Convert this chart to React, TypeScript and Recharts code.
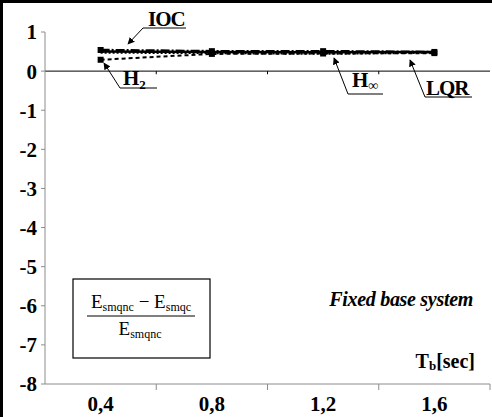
import React from 'react';
import { LineChart, Line, XAxis, YAxis, ReferenceLine } from 'recharts';

// Tb [sec] sample points
const tbValues = [0.4, 0.8, 1.2, 1.6];
// relative energy reduction per controller
const iocValues = [0.54, 0.51, 0.51, 0.49];
const h2Values = [0.29, 0.44, 0.45, 0.46];
const hInfValues = [0.47, 0.46, 0.44, 0.47];
const lqrValues = [0.5, 0.49, 0.48, 0.49];

const xLabelTicks = [0.4, 0.8, 1.2, 1.6];
const xMarkTicks = [0.6, 1.0, 1.4, 1.8];
const zeroLineTicks = [0.6, 1.0, 1.4];
const yTicks = [-8, -7, -6, -5, -4, -3, -2, -1, 0, 1];

const data = tbValues.map((tb, i) => ({
  tb,
  ioc: iocValues[i],
  h2: h2Values[i],
  hinf: hInfValues[i],
  lqr: lqrValues[i],
}));

const allXTicks = [...xLabelTicks, ...xMarkTicks].sort((a, b) => a - b);

const serif = '"Liberation Serif", "Times New Roman", serif';
const axisGray = '#8c8c8c';

const XTick = (props: any) => {
  const { x, y, payload } = props;
  if (xLabelTicks.includes(payload.value)) {
    return (
      <text x={x} y={y + 27} textAnchor="middle" fontFamily={serif} fontWeight="bold" fontSize={21} fill="#000">
        {String(payload.value).replace('.', ',')}
      </text>
    );
  }
  return <line x1={x} y1={y} x2={x} y2={y + 6} stroke={axisGray} strokeWidth={1} />;
};

const Dot = (props: any) => {
  const { cx, cy } = props;
  return <rect x={cx - 3} y={cy - 3} width={6} height={6} fill="#000" />;
};

const App: React.FC = () => {
  const lbl = { fontFamily: serif, fontWeight: 'bold' as const, fill: '#000' };
  return (
    <div style={{ position: 'relative', width: 492, height: 417, background: '#fff' }}>
      <style>{`body{margin:0}`}</style>
      <LineChart width={492} height={417} data={data} margin={{ top: 32, right: 2, bottom: 0, left: 0 }}>
        <XAxis
          dataKey="tb"
          type="number"
          domain={[0.2, 1.8]}
          ticks={allXTicks}
          interval={0}
          height={33}
          tickSize={0}
          tickMargin={0}
          tickLine={false}
          axisLine={{ stroke: axisGray }}
          tick={<XTick />}
        />
        <YAxis
          type="number"
          domain={[-8, 1]}
          ticks={yTicks}
          interval={0}
          width={45}
          tickSize={4}
          tickMargin={4}
          axisLine={{ stroke: axisGray }}
          tickLine={{ stroke: axisGray }}
          tick={{ fill: '#000', fontSize: 21, fontWeight: 'bold', fontFamily: serif }}
        />
        <ReferenceLine y={0} stroke="#000" strokeWidth={1} />
        {zeroLineTicks.map((v) => (
          <ReferenceLine key={v} segment={[{ x: v, y: 0 }, { x: v, y: -0.08 }]} stroke="#000" />
        ))}
        <Line dataKey="h2" stroke="#000" strokeWidth={2} strokeDasharray="4 3" dot={<Dot />} isAnimationActive={false} />
        <Line dataKey="hinf" stroke="#000" strokeWidth={2} strokeDasharray="2 2" dot={false} isAnimationActive={false} />
        <Line dataKey="lqr" stroke="#000" strokeWidth={2.5} dot={false} isAnimationActive={false} />
        <Line dataKey="ioc" stroke="#000" strokeWidth={2.5} strokeDasharray="9 2 2 2" dot={<Dot />} isAnimationActive={false} />
      </LineChart>

      <svg width={492} height={417} style={{ position: 'absolute', left: 0, top: 0, pointerEvents: 'none' }}>
        <defs>
          <marker id="arrow" viewBox="0 0 10 10" refX="9" refY="5" markerWidth="7" markerHeight="7" orient="auto">
            <path d="M0,0 L10,5 L0,10 z" fill="#000" />
          </marker>
        </defs>
        {/* figure frame */}
        <line x1={1.5} y1={0} x2={1.5} y2={417} stroke="#000" strokeWidth={3} />
        <line x1={0} y1={1.5} x2={492} y2={1.5} stroke="#000" strokeWidth={3} />

        {/* IOC */}
        <text x={148} y={26} fontSize={21} letterSpacing={-1} {...lbl}>IOC</text>
        <line x1={186} y1={28} x2={143} y2={28} stroke="#000" />
        <line x1={143} y1={28} x2={128} y2={44} stroke="#000" markerEnd="url(#arrow)" />

        {/* H2 */}
        <text x={123} y={85} fontSize={21} {...lbl}>
          H<tspan fontSize={13} dy={4}>2</tspan>
        </text>
        <line x1={157} y1={88} x2={120} y2={88} stroke="#000" />
        <line x1={120} y1={88} x2={104} y2={63} stroke="#000" markerEnd="url(#arrow)" />

        {/* H-infinity */}
        <text x={352} y={87} fontSize={21} {...lbl}>
          H<tspan fontSize={14} dy={3}>∞</tspan>
        </text>
        <line x1={383} y1={94} x2={348} y2={94} stroke="#000" />
        <line x1={348} y1={94} x2={334} y2={58} stroke="#000" markerEnd="url(#arrow)" />

        {/* LQR */}
        <text x={426} y={95} fontSize={21} letterSpacing={-1} {...lbl}>LQR</text>
        <line x1={472} y1={97} x2={425} y2={97} stroke="#000" />
        <line x1={425} y1={97} x2={410} y2={60} stroke="#000" markerEnd="url(#arrow)" />

        {/* formula box */}
        <rect x={73} y={279} width={137} height={79} fill="#fff" stroke="#000" strokeWidth={1.2} />
        <text x={141} y={308} textAnchor="middle" fontFamily={serif} fontSize={19} fill="#000">
          E<tspan fontSize={12} dy={3}>smqnc</tspan>
          <tspan dy={-3}> − E</tspan>
          <tspan fontSize={12} dy={3}>smqc</tspan>
        </text>
        <line x1={87} y1={316} x2={195} y2={316} stroke="#000" strokeWidth={1} />
        <text x={140} y={335} textAnchor="middle" fontFamily={serif} fontSize={19} fill="#000">
          E<tspan fontSize={12} dy={3}>smqnc</tspan>
        </text>

        <text x={473} y={306} textAnchor="end" fontSize={20} fontStyle="italic" letterSpacing={-0.3} {...lbl}>
          Fixed base system
        </text>
        <text x={475} y={368} textAnchor="end" fontSize={20} {...lbl}>
          T<tspan fontSize={13} dy={2}>b</tspan>
          <tspan dy={-2}>[sec]</tspan>
        </text>
      </svg>
    </div>
  );
};

export default App;
